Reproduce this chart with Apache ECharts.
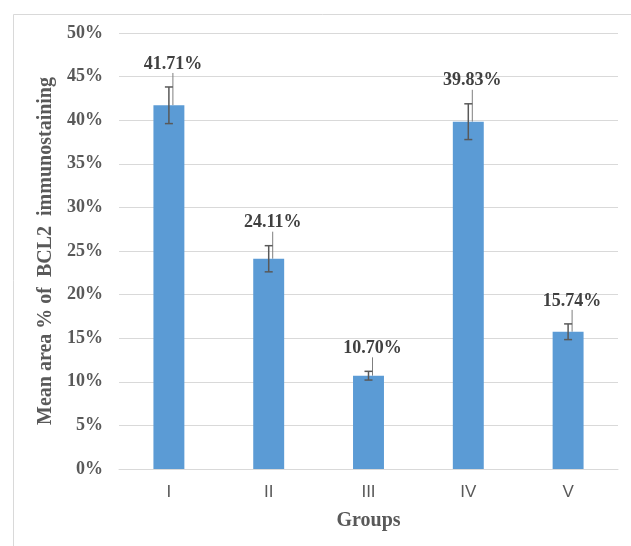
<!DOCTYPE html>
<html>
<head>
<meta charset="utf-8">
<script src="https://cdn.jsdelivr.net/npm/echarts@6/dist/echarts.min.js"></script>
<style>
  html, body { margin: 0; padding: 0; background: #fff; }
  #chart { width: 631px; height: 546px; }
</style>
</head>
<body>
<div id="chart"></div>
<script>
const groups = ['I', 'II', 'III', 'IV', 'V']
const meanArea = [41.71, 24.11, 10.70, 39.83, 15.74]
const errBar = [2.1, 1.5, 0.5, 2.05, 0.9]
const yTicks = [0, 5, 10, 15, 20, 25, 30, 35, 40, 45, 50]

const chart = echarts.init(document.getElementById('chart'))

const serif = '"Liberation Serif", "Times New Roman", serif'
const sans = '"Liberation Sans", Arial, sans-serif'

const option = {
  animation: false,
  backgroundColor: '#fff',
  graphic: [
    {
      type: 'rect',
      shape: { x: 13.5, y: 14.5, width: 640, height: 560 },
      style: { fill: 'none', stroke: '#d9d9d9', lineWidth: 1 },
      silent: true,
    },
  ],
  grid: { left: 119, right: 13, top: 33, bottom: 77, containLabel: false },
  xAxis: {
    type: 'category',
    data: groups,
    name: 'Groups',
    nameLocation: 'middle',
    nameGap: 42,
    nameTextStyle: { fontFamily: serif, fontWeight: 'bold', fontSize: 20, color: '#595959' },
    axisLine: { lineStyle: { color: '#d9d9d9', width: 1 } },
    axisTick: { show: false },
    axisLabel: { fontFamily: sans, fontSize: 17, color: '#595959', margin: 15 },
  },
  yAxis: {
    type: 'value',
    min: yTicks[0],
    max: yTicks[yTicks.length - 1],
    interval: 5,
    name: 'Mean area % of  BCL2  immunostaining',
    nameLocation: 'middle',
    nameGap: 62,
    nameTextStyle: { fontFamily: serif, fontWeight: 'bold', fontSize: 20, color: '#595959' },
    axisLine: { show: false },
    axisTick: { show: false },
    splitLine: { lineStyle: { color: '#d9d9d9', width: 1 } },
    axisLabel: {
      fontFamily: serif,
      fontWeight: 'bold',
      fontSize: 18,
      color: '#595959',
      margin: 16,
      formatter: (v) => v + '%',
    },
  },
  series: [
    {
      type: 'bar',
      data: meanArea,
      barWidth: '31%',
      itemStyle: { color: '#5b9bd5' },
      label: {
        show: true,
        position: 'top',
        fontFamily: serif,
        fontWeight: 'bold',
        fontSize: 18,
        color: '#404040',
        formatter: (p) => p.value.toFixed(2) + '%',
      },
      labelLayout: (params) => {
        const i = params.dataIndex
        const top = chart.convertToPixel({ yAxisIndex: 0 }, meanArea[i] + errBar[i])
        return {
          x: params.rect.x + params.rect.width / 2 + 4,
          y: top - 14,
          align: 'center',
          verticalAlign: 'bottom',
        }
      },
      labelLine: { show: true, lineStyle: { color: '#7f7f7f', width: 1 }, length2: 0 },
      z: 2,
    },
    {
      type: 'custom',
      data: meanArea.map((v, i) => [i, v - errBar[i], v + errBar[i]]),
      renderItem: (params, api) => {
        const lo = api.coord([api.value(0), api.value(1)])
        const hi = api.coord([api.value(0), api.value(2)])
        const x = lo[0]
        const half = 4
        const style = { stroke: '#595959', lineWidth: 1.5 }
        return {
          type: 'group',
          children: [
            { type: 'line', shape: { x1: x, y1: hi[1], x2: x, y2: lo[1] }, style },
            { type: 'line', shape: { x1: x - half, y1: hi[1], x2: x + half, y2: hi[1] }, style },
            { type: 'line', shape: { x1: x - half, y1: lo[1], x2: x + half, y2: lo[1] }, style },
          ],
        }
      },
      z: 3,
    },
  ],
}

chart.setOption(option)
</script>
</body>
</html>
